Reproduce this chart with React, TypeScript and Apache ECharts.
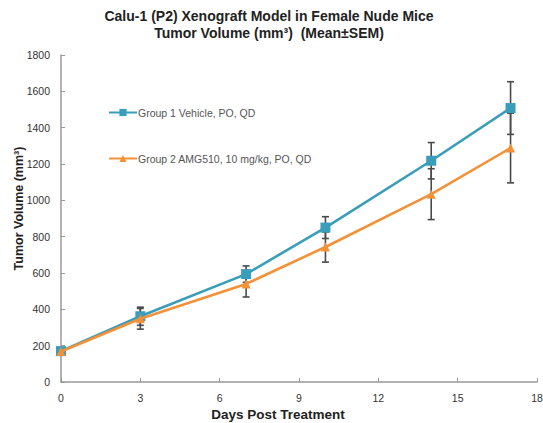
import React, { useEffect, useRef } from "react";
import * as echarts from "echarts";

const days = [0, 3, 7, 10, 14, 17];
const vehicleMean = [170, 362, 594, 850, 1218, 1508];
const vehicleSem = [15, 50, 45, 60, 100, 145];
const amgMean = [168, 348, 540, 743, 1034, 1288];
const amgSem = [15, 57, 72, 83, 140, 192];
const xTicks = [0, 3, 6, 9, 12, 15, 18];
const vehicleName = "Group 1 Vehicle, PO, QD";
const amgName = "Group 2 AMG510, 10 mg/kg, PO, QD";

const BLUE = "#3a9dba";
const ORANGE = "#f39139";
const FONT = "Liberation Sans, Arial, sans-serif";

function errData(mean: number[], sem: number[]) {
  return days.map((d, i) => [d, mean[i] - sem[i], mean[i] + sem[i]]);
}

function errRender(params: any, api: any) {
  const x = api.value(0);
  const lo = api.coord([x, api.value(1)]);
  const hi = api.coord([x, api.value(2)]);
  const w = 3.5;
  const style = { stroke: "#4a4a4a", lineWidth: 1.6 };
  return {
    type: "group",
    children: [
      { type: "line", shape: { x1: lo[0], y1: lo[1], x2: hi[0], y2: hi[1] }, style },
      { type: "line", shape: { x1: lo[0] - w, y1: lo[1], x2: lo[0] + w, y2: lo[1] }, style },
      { type: "line", shape: { x1: hi[0] - w, y1: hi[1], x2: hi[0] + w, y2: hi[1] }, style },
    ],
  };
}

export default function App() {
  const ref = useRef<HTMLDivElement>(null);
  useEffect(() => {
    if (!ref.current) return;
    const chart = echarts.init(ref.current, null, { renderer: "svg" });
    chart.setOption({
      animation: false,
      backgroundColor: "#ffffff",
      textStyle: { fontFamily: FONT },
      title: {
        text: "Calu-1 (P2) Xenograft Model in Female Nude Mice\nTumor Volume (mm³)  (Mean±SEM)",
        left: 264,
        textAlign: "center",
        top: 2,
        textStyle: { fontSize: 14, fontWeight: "bold", color: "#222", lineHeight: 17, fontFamily: FONT },
      },
      legend: {
        orient: "vertical",
        left: 103,
        top: 102,
        itemGap: 35,
        itemWidth: 28,
        itemHeight: 9,
        data: [vehicleName, amgName],
        textStyle: { fontSize: 10.5, color: "#555", fontFamily: FONT, padding: [0, 0, 0, -4] },
      },
      grid: { left: 61, right: 6, top: 55, bottom: 41, containLabel: false, outerBoundsMode: "none" },
      xAxis: {
        type: "value",
        min: 0,
        max: 18,
        interval: 3,
        name: "Days Post Treatment",
        nameLocation: "middle",
        nameGap: 25,
        nameMoveOverlap: false,
        nameTextStyle: { fontSize: 13.5, fontWeight: "bold", color: "#222", fontFamily: FONT, padding: [0, 42, 0, 0] },
        axisLine: { lineStyle: { color: "#999", width: 1.5 } },
        axisTick: { inside: true, length: 4, lineStyle: { color: "#999" } },
        axisLabel: {
          fontSize: 10.5,
          color: "#333",
          margin: 10,
          customValues: xTicks,
        },
        splitLine: { show: false },
      },
      yAxis: {
        type: "value",
        min: 0,
        max: 1800,
        interval: 200,
        name: "Tumor Volume (mm³)",
        nameLocation: "middle",
        nameGap: 36,
        nameMoveOverlap: false,
        nameTextStyle: { fontSize: 12.5, fontWeight: "bold", color: "#222", fontFamily: FONT, padding: [0, 0, 0, 20] },
        axisLine: { show: true, lineStyle: { color: "#999", width: 1.5 } },
        axisTick: { show: true, inside: true, length: 4, lineStyle: { color: "#999" } },
        axisLabel: { fontSize: 10.5, color: "#333", margin: 11, formatter: (v: number) => String(v) },
        splitLine: { show: false },
      },
      series: [
        {
          type: "custom",
          name: "vehicleErr",
          data: errData(vehicleMean, vehicleSem).slice(1),
          renderItem: errRender,
          z: 1,
          silent: true,
        },
        {
          type: "custom",
          name: "amgErr",
          data: errData(amgMean, amgSem).slice(1),
          renderItem: errRender,
          z: 1,
          silent: true,
        },
        {
          type: "line",
          name: vehicleName,
          data: days.map((d, i) => [d, vehicleMean[i]]),
          symbol: "rect",
          symbolSize: 10,
          lineStyle: { color: BLUE, width: 2.6 },
          itemStyle: { color: BLUE },
          z: 3,
        },
        {
          type: "line",
          name: amgName,
          data: days.map((d, i) => [d, amgMean[i]]),
          symbol: "triangle",
          symbolSize: 9,
          lineStyle: { color: ORANGE, width: 2.6 },
          itemStyle: { color: ORANGE },
          z: 4,
        },
      ],
    });
    return () => chart.dispose();
  }, []);
  return <div ref={ref} style={{ width: 543, height: 423, position: "absolute", left: 0, top: 0 }} />;
}
